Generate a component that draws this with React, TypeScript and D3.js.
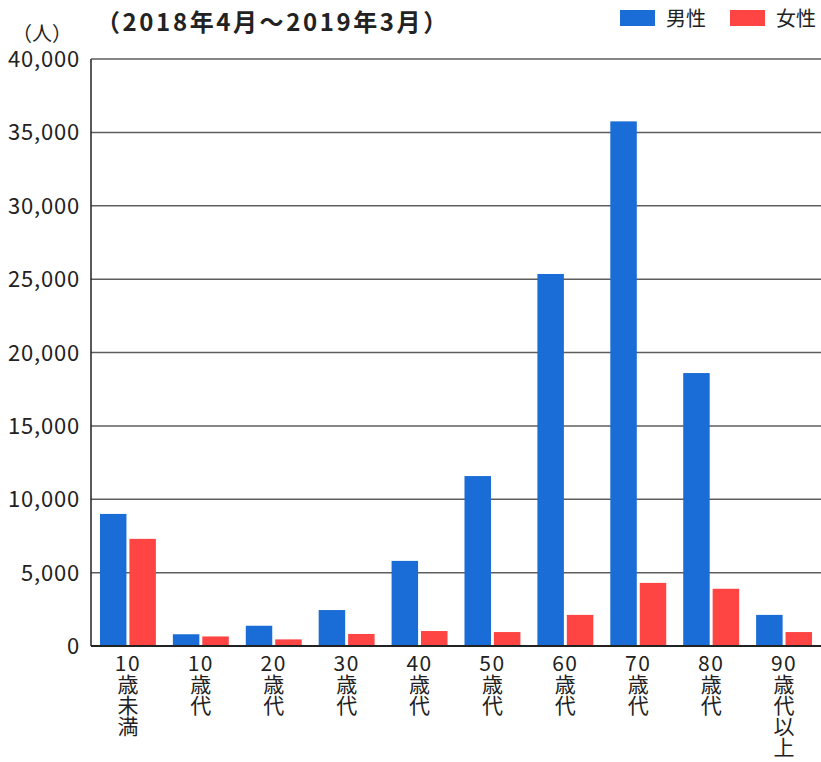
import React from "react";
import * as d3 from "d3";

const categories = ["10歳未満", "10歳代", "20歳代", "30歳代", "40歳代", "50歳代", "60歳代", "70歳代", "80歳代", "90歳代以上"];
const labelLines = [
  ["10", "歳", "未", "満"],
  ["10", "歳", "代"],
  ["20", "歳", "代"],
  ["30", "歳", "代"],
  ["40", "歳", "代"],
  ["50", "歳", "代"],
  ["60", "歳", "代"],
  ["70", "歳", "代"],
  ["80", "歳", "代"],
  ["90", "歳", "代", "以", "上"],
];
const seriesNames = ["男性", "女性"];
const maleValues = [9000, 800, 1380, 2450, 5800, 11580, 25350, 35750, 18600, 2120];
const femaleValues = [7300, 650, 450, 820, 1020, 950, 2120, 4300, 3900, 950];
const yTicks = [0, 5000, 10000, 15000, 20000, 25000, 30000, 35000, 40000];
const title = "（2018年4月～2019年3月）";
const unitLabel = "（人）";

const W = 821;
const H = 762;
const colors = ["#1a6dd6", "#ff4444"];
const FONT = "'Noto Sans CJK JP', 'Noto Sans', sans-serif";

export default function App() {
  const left = 91;
  const right = 821;
  const top = 59;
  const bottom = 646;

  const x0 = d3.scaleBand<string>().domain(categories).range([left, right]).paddingInner(0.233).paddingOuter(0.123);
  const x1 = d3.scaleBand<string>().domain(seriesNames).range([0, x0.bandwidth()]).paddingInner(0.1);
  const y = d3.scaleLinear().domain([0, 40000]).range([bottom, top]);
  const fmt = d3.format(",");
  const values = [maleValues, femaleValues];

  return (
    <svg width={W} height={H} style={{ position: "absolute", left: 0, top: 0, background: "#fff" }} fontFamily={FONT}>
      <rect x={0} y={0} width={W} height={H} fill="#fff" />
      {yTicks.filter((t) => t > 0).map((t) => (
        <line key={t} x1={left} x2={right} y1={y(t)} y2={y(t)} stroke="#5e5e5e" strokeWidth={1.5} />
      ))}
      {categories.map((c, i) => (
        <g key={c} transform={`translate(${x0(c)},0)`}>
          {seriesNames.map((s, j) => (
            <rect key={s} x={x1(s)} y={y(values[j][i])} width={x1.bandwidth()} height={bottom - y(values[j][i])} fill={colors[j]} />
          ))}
        </g>
      ))}
      <line x1={left} x2={left} y1={top} y2={bottom} stroke="#222" strokeWidth={1.5} />
      <line x1={left} x2={right} y1={bottom} y2={bottom} stroke="#222" strokeWidth={2} />
      {yTicks.map((t) => (
        <text key={t} x={80} y={y(t) + 8} textAnchor="end" fontSize={22} letterSpacing={0.8} fill="#222">{fmt(t)}</text>
      ))}
      {categories.map((c, i) => {
        const cx = (x0(c) as number) + x0.bandwidth() / 2;
        return (
          <g key={c}>
            {labelLines[i].map((ln, k) => (
              <text key={k} x={cx} y={671 + k * 21} textAnchor="middle" fontSize={21} letterSpacing={k === 0 ? 1.5 : 0} fill="#222">{ln}</text>
            ))}
          </g>
        );
      })}
      <text x={42} y={41} textAnchor="middle" fontSize={20} fill="#222">{unitLabel}</text>
      <text x={96} y={31} fontSize={24} fontWeight="bold" letterSpacing={2.6} fill="#222">{title}</text>
      {seriesNames.map((s, j) => (
        <g key={s} transform={`translate(${j === 0 ? 620 : 730},0)`}>
          <rect x={0} y={10} width={35} height={16} fill={colors[j]} />
          <text x={46} y={26} fontSize={20} fill="#222">{s}</text>
        </g>
      ))}
    </svg>
  );
}
